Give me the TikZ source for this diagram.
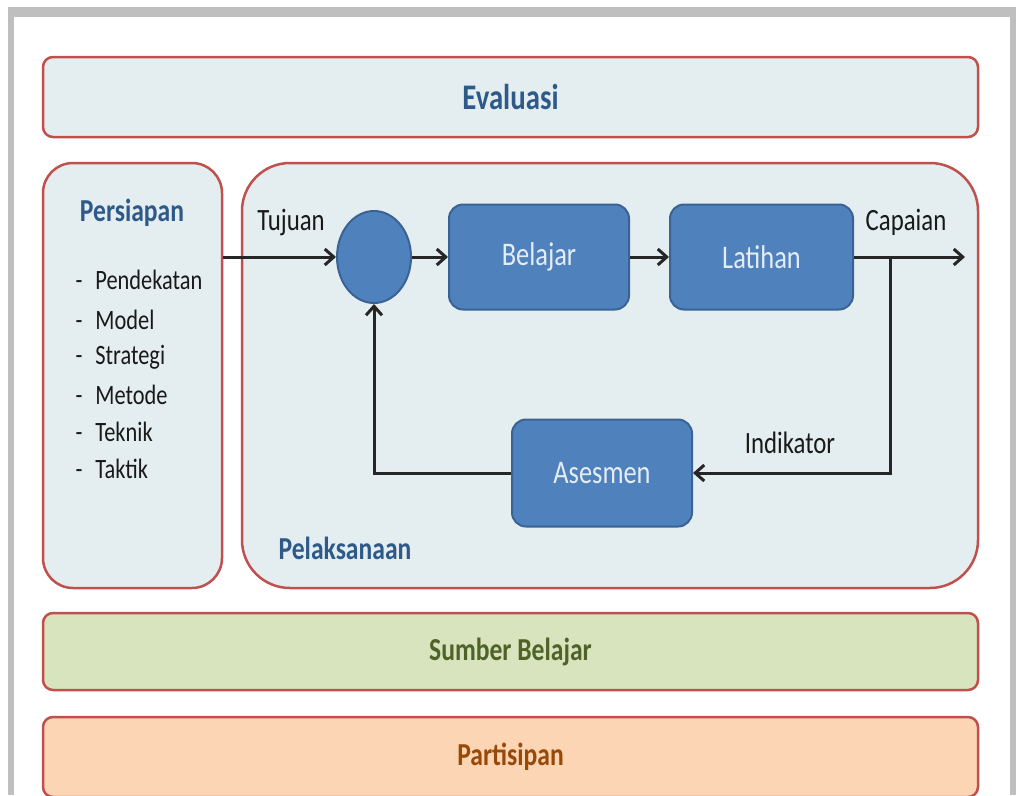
\documentclass[tikz,border=0pt]{standalone}
\usepackage{fontspec}
\setmainfont{Carlito}[FakeStretch=0.8]
\usetikzlibrary{shapes.geometric,arrows.meta}

\definecolor{boxred}{HTML}{C0504D}
\definecolor{paleblue}{HTML}{E4EEF0}
\definecolor{stepblue}{HTML}{4F81BD}
\definecolor{stepedge}{HTML}{3A6395}
\definecolor{titleblue}{HTML}{2E5A8A}
\definecolor{sumberfill}{HTML}{D7E4BD}
\definecolor{sumbertext}{HTML}{4F6228}
\definecolor{partfill}{HTML}{FCD5B5}
\definecolor{parttext}{HTML}{984807}
\definecolor{linegray}{HTML}{262626}

\begin{document}
\begin{tikzpicture}[x=1pt,y=-1pt,
  band/.style={draw=boxred, line width=2.5pt, rounded corners=10pt, minimum width=935pt,
    minimum height=80pt, inner sep=0pt, font=\bfseries\fontsize{32}{36}\selectfont},
  panel/.style={draw=boxred, fill=paleblue, line width=2.5pt, minimum height=425pt, inner sep=0pt},
  stepbox/.style={draw=stepedge, fill=stepblue, line width=2pt, rounded corners=14pt,
    minimum width=180pt, minimum height=105pt, text=white!85!stepblue,
    font=\fontsize{33}{36}\selectfont},
  lbl/.style={font=\fontsize{31}{34}\selectfont, text=black!90},
  listitem/.style={anchor=west, font=\fontsize{28}{30}\selectfont, text=black!90},
  flow/.style={draw=linegray, line width=3pt, -{Straight Barb[length=9pt,width=16pt]}}
]

% frame
\fill[black!25] (8,7) rectangle (1016,795);
\fill[white] (14,17) rectangle (1010,795);
\useasboundingbox (0,0) rectangle (1016,795);

% bands and panels
\node[band, fill=paleblue, text=titleblue, font=\bfseries\fontsize{36}{40}\selectfont] (evaluasi) at (510.5,97) {Evaluasi};
\node[panel, rounded corners=30pt, minimum width=179pt] (persiapan) at (132.5,375.5) {};
\node[panel, rounded corners=48pt, minimum width=736pt] (pelaksanaan) at (610,375.5) {};
\node[band, fill=sumberfill, text=sumbertext, minimum height=77pt] (sumber) at (510.5,651.5) {Sumber Belajar};
\node[band, fill=partfill, text=parttext] (partisipan) at (510.5,757) {Partisipan};

% persiapan
\node[font=\bfseries\fontsize{32}{36}\selectfont, text=titleblue] (persiapantitle) at (132,213) {Persiapan};
\node[listitem] (pendekatan) at (72,280) {-\hspace{13pt}Pendekatan};
\node[listitem] (model) at (72,320) {-\hspace{13pt}Model};
\node[listitem] (strategi) at (72,357) {-\hspace{13pt}Strategi};
\node[listitem] (metode) at (72,395) {-\hspace{13pt}Metode};
\node[listitem] (teknik) at (72,432) {-\hspace{13pt}Teknik};
\node[listitem] (taktik) at (72,469) {-\hspace{13pt}Taktik};

% pelaksanaan
\node[draw=stepedge, fill=stepblue, line width=2pt, ellipse, minimum width=74pt, minimum height=92pt] (circ) at (374,257) {};
\node[stepbox] (belajar) at (539,257) {Belajar};
\node[stepbox, minimum width=183pt] (latihan) at (761.5,257) {Latihan};
\node[stepbox, minimum height=107pt] (asesmen) at (602,473) {Asesmen};
\node[font=\bfseries\fontsize{32}{36}\selectfont, text=titleblue] (pelaksanaantitle) at (345,548) {Pelaksanaan};

\coordinate (tap) at (890,257);
\coordinate (capaian) at (965,257);

\draw[flow] (persiapan.east |- circ.west) -- (circ.west);
\draw[flow] (circ) -- (belajar);
\draw[flow] (belajar) -- (latihan);
\draw[flow] (latihan) -- (capaian);
\draw[flow] (tap) -- (tap |- asesmen.east) -- (asesmen.east);
\draw[flow] (asesmen.west) -- (circ |- asesmen.west) -- (circ.south);

\node[lbl] (tujuan) at (291,222) {Tujuan};
\node[lbl] (capaianlbl) at (906,222) {Capaian};
\node[lbl] (indikator) at (790,443) {Indikator};

\end{tikzpicture}
\end{document}
